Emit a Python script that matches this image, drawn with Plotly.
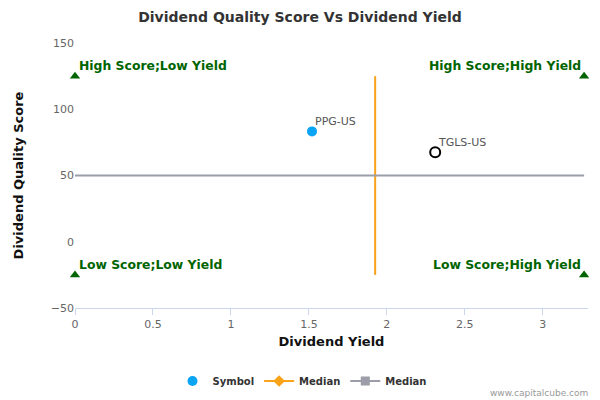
import plotly.graph_objects as go

# company points (dividend yield, quality score)
symbols = ["PPG-US"]
sym_yield = [1.52]
sym_score = [83.3]

peer = ["TGLS-US"]
peer_yield = [2.31]
peer_score = [67.5]

# medians
median_yield = 1.925
median_score = 50

# quadrant corners
quad_x = [0, 3.265, 0, 3.265]
quad_y = [125, 125, -25, -25]
quad_labels = ["High Score;Low Yield", "High Score;High Yield",
               "Low Score;Low Yield", "Low Score;High Yield"]

font = "DejaVu Sans"
green = "#006400"
blue = "#0aa4f5"
orange = "#f9a31a"
gray = "#9b9da8"

fig = go.Figure()

# median lines drawn as traces (legend entries added separately below)
fig.add_trace(go.Scatter(x=[median_yield, median_yield], y=[quad_y[2], quad_y[0]],
                         mode="lines", line=dict(color=orange, width=2),
                         showlegend=False, hoverinfo="skip"))
fig.add_trace(go.Scatter(x=[quad_x[0], quad_x[1]], y=[median_score, median_score],
                         mode="lines", line=dict(color=gray, width=2),
                         showlegend=False, hoverinfo="skip"))

fig.add_trace(go.Scatter(x=quad_x, y=quad_y, mode="markers", cliponaxis=False,
                         marker=dict(symbol="triangle-up", size=9, color=green),
                         showlegend=False, hoverinfo="skip"))

fig.add_trace(go.Scatter(x=sym_yield, y=sym_score, mode="markers", name="Symbol",
                         marker=dict(size=10, color=blue)))

fig.add_trace(go.Scatter(x=peer_yield, y=peer_score, mode="markers",
                         marker=dict(size=10, color="white",
                                     line=dict(color="black", width=2)),
                         showlegend=False))

# legend-only entries for the medians
fig.add_trace(go.Scatter(x=[None], y=[None], mode="lines+markers", name="Median",
                         line=dict(color=orange, width=2),
                         marker=dict(symbol="diamond", size=9, color=orange)))
fig.add_trace(go.Scatter(x=[None], y=[None], mode="lines+markers", name="Median",
                         line=dict(color=gray, width=2),
                         marker=dict(symbol="square", size=9, color=gray)))

# point labels
for px_, py_, lab in zip(sym_yield + peer_yield, sym_score + peer_score, symbols + peer):
    fig.add_annotation(x=px_, y=py_, text=lab, showarrow=False,
                       xanchor="left", yanchor="bottom", xshift=1, yshift=1,
                       font=dict(family=font, size=11, color="#555"))

for qx, qy, lab in zip(quad_x, quad_y, quad_labels):
    left = qx < median_yield
    fig.add_annotation(x=qx, y=qy, text="<b>%s</b>" % lab, showarrow=False,
                       xanchor="left" if left else "right", yanchor="bottom",
                       xshift=2 if left else -1, yshift=1,
                       font=dict(family=font, size=12.4, color=green))

fig.add_annotation(x=1.0, y=0.0, xref="paper", yref="paper", text="www.capitalcube.com",
                   showarrow=False, xanchor="right", yanchor="middle",
                   xshift=2, yshift=-85, font=dict(family=font, size=9, color="#999"))

fig.update_layout(
    width=600, height=400,
    margin=dict(l=75, r=12, t=43, b=92),
    paper_bgcolor="white", plot_bgcolor="white",
    font=dict(family=font, size=11, color="#666"),
    title=dict(text="<b>Dividend Quality Score Vs Dividend Yield</b>",
               x=0.5, xref="container", y=1 - 17 / 400, yanchor="middle",
               font=dict(family=font, size=14, color="#333")),
    legend=dict(orientation="h", x=302 / 600, xanchor="center", xref="container",
                y=1 - 381 / 400, yanchor="middle", yref="container", itemwidth=30,
                font=dict(family=font, size=10, color="#333", weight="bold")),
    showlegend=True,
)

fig.update_xaxes(range=[0, 3.29], tickvals=[0, 0.5, 1, 1.5, 2, 2.5, 3],
                 ticktext=["0", "0.5", "1", "1.5", "2", "2.5", "3"],
                 showgrid=False, zeroline=False, showline=True, linecolor="#ccd6eb",
                 ticks="outside", ticklen=6, tickcolor="#ccd6eb", automargin=False,
                 tickfont=dict(size=11, color="#666"),
                 title=dict(text="<b>Dividend Yield</b>", standoff=6,
                            font=dict(family=font, size=13, color="#111")))
fig.update_yaxes(range=[-50, 150], dtick=50, showgrid=False, zeroline=False,
                 showline=False, ticks="", tickfont=dict(size=11, color="#666"),
                 automargin=False,
                 title=dict(text="<b>Dividend Quality Score</b>", standoff=24,
                            font=dict(family=font, size=13, color="#111")))

fig.write_html("out.html", config={"displayModeBar": False},
               post_script="document.body.style.margin='0';")
